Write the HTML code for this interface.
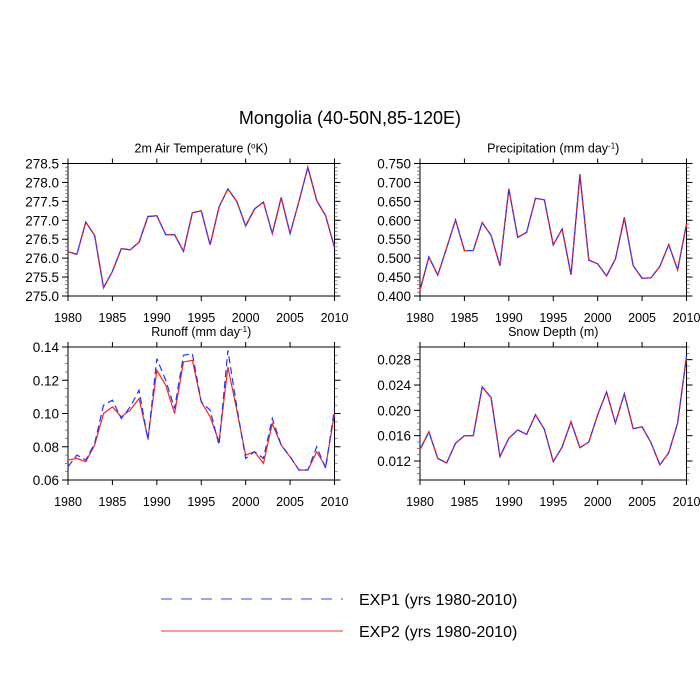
<!DOCTYPE html>
<html><head><meta charset="utf-8"><style>
html,body{margin:0;padding:0;background:#fff;}
svg{display:block;font-family:"Liberation Sans",sans-serif;}
</style></head><body>
<svg id="chart" width="700" height="700" viewBox="0 0 700 700">
<text x="350" y="124" font-size="18" text-anchor="middle">Mongolia (40-50N,85-120E)</text>
<g id="panels"></g>
<g>
<line x1="161" y1="599" x2="343" y2="599" stroke="#3344ff" stroke-width="1" stroke-dasharray="11,9"/>
<text x="359" y="605" font-size="16">EXP1 (yrs 1980-2010)</text>
<line x1="161" y1="631" x2="343" y2="631" stroke="#ff3333" stroke-width="1"/>
<text x="359" y="637" font-size="16">EXP2 (yrs 1980-2010)</text>
</g>
</svg>
<script>
const years = [];
for (let y = 1980; y <= 2010; y++) years.push(y);
const xTickLabels = ["1980","1985","1990","1995","2000","2005","2010"];

const tempExp1 = [276.17,276.1,276.95,276.6,275.22,275.65,276.25,276.22,276.42,277.1,277.12,276.62,276.62,276.18,277.2,277.25,276.35,277.35,277.83,277.5,276.85,277.3,277.48,276.65,277.6,276.65,277.5,278.4,277.52,277.12,276.28];
const tempExp2 = [276.17,276.1,276.95,276.6,275.22,275.65,276.25,276.22,276.42,277.1,277.12,276.62,276.62,276.18,277.2,277.25,276.35,277.35,277.83,277.5,276.85,277.3,277.48,276.65,277.6,276.65,277.5,278.4,277.52,277.12,276.28];
const tempTicks = ["275.0","275.5","276.0","276.5","277.0","277.5","278.0","278.5"];

const precExp1 = [0.415,0.503,0.455,0.527,0.601,0.520,0.520,0.594,0.560,0.480,0.683,0.555,0.568,0.658,0.654,0.535,0.577,0.456,0.722,0.495,0.485,0.453,0.498,0.608,0.480,0.447,0.448,0.478,0.536,0.469,0.590];
const precExp2 = [0.415,0.503,0.455,0.527,0.601,0.520,0.520,0.594,0.560,0.480,0.683,0.555,0.568,0.658,0.654,0.535,0.577,0.456,0.718,0.495,0.485,0.453,0.498,0.605,0.480,0.447,0.448,0.478,0.536,0.469,0.590];
const precTicks = ["0.400","0.450","0.500","0.550","0.600","0.650","0.700","0.750"];

const runExp1 = [0.068,0.075,0.072,0.082,0.105,0.108,0.097,0.104,0.114,0.084,0.133,0.120,0.103,0.135,0.136,0.107,0.102,0.081,0.138,0.104,0.073,0.077,0.073,0.097,0.081,0.074,0.066,0.066,0.080,0.067,0.103];
const runExp2 = [0.072,0.073,0.071,0.081,0.100,0.104,0.098,0.102,0.109,0.085,0.126,0.117,0.100,0.131,0.132,0.107,0.098,0.083,0.128,0.102,0.075,0.077,0.070,0.094,0.081,0.074,0.066,0.066,0.077,0.068,0.100];
const runTicks = ["0.06","0.08","0.10","0.12","0.14"];

const snowExp1 = [0.0138,0.0166,0.0124,0.0117,0.0148,0.0160,0.0160,0.0237,0.0220,0.0127,0.0156,0.0169,0.0162,0.0193,0.0170,0.0119,0.0142,0.0182,0.0141,0.0150,0.0193,0.0229,0.0180,0.0226,0.0171,0.0174,0.0149,0.0114,0.0133,0.0180,0.0286];
const snowExp2 = [0.0138,0.0166,0.0124,0.0117,0.0148,0.0160,0.0160,0.0237,0.0220,0.0127,0.0156,0.0169,0.0162,0.0193,0.0170,0.0119,0.0142,0.0182,0.0141,0.0150,0.0193,0.0229,0.0180,0.0226,0.0171,0.0174,0.0149,0.0114,0.0133,0.0180,0.0284];
const snowTicks = ["0.012","0.016","0.020","0.024","0.028"];

const NS = "http://www.w3.org/2000/svg";
const root = document.getElementById("panels");
function mk(tag, attrs, parent) {
  const e = document.createElementNS(NS, tag);
  for (const k in attrs) e.setAttribute(k, attrs[k]);
  parent.appendChild(e);
  return e;
}

function panel(cfg) {
  const g = mk("g", {}, root);
  
  
  const {x0, x1, y0, y1, ymin, ymax} = cfg;
  const sx = v => x0 + (v - 1980) / 30 * (x1 - x0);
  const sy = v => y1 - (v - ymin) / (ymax - ymin) * (y1 - y0);
  const fr = mk("rect", {x: x0, y: y0, width: x1 - x0, height: y1 - y0, fill: "none", stroke: "#000", "stroke-width": 1}, g);
  
  
  const t = mk("text", {x: (x0 + x1) / 2, y: y0 - 11, "font-size": 12.5, "text-anchor": "middle"}, g);
  
  
  t.innerHTML = cfg.title;
  // x ticks
  xTickLabels.forEach(lab => {
    const xv = sx(+lab);
    mk("line", {x1: xv, y1: y1, x2: xv, y2: y1 + 5, stroke: "#000"}, g);
    mk("line", {x1: xv, y1: y0, x2: xv, y2: y0 - 5, stroke: "#000"}, g);
    const tl = mk("text", {x: xv, y: y1 + 26, "font-size": 12.5, "text-anchor": "middle"}, g);
    
    
    tl.textContent = lab;
  });
  // minor y ticks
  for (let v = cfg.minorStart; v <= ymax + 1e-9; v += cfg.minor) {
    const yv = sy(v);
    if (yv < y0 - 0.5 || yv > y1 + 0.5) continue;
    mk("line", {x1: x0, y1: yv, x2: x0 - 3, y2: yv, stroke: "#555", "stroke-width": 0.7}, g);
    mk("line", {x1: x1, y1: yv, x2: x1 + 3, y2: yv, stroke: "#555", "stroke-width": 0.7}, g);
  }
  cfg.ticks.forEach(lab => {
    const yv = sy(+lab);
    mk("line", {x1: x0, y1: yv, x2: x0 - 6, y2: yv, stroke: "#000"}, g);
    mk("line", {x1: x1, y1: yv, x2: x1 + 6, y2: yv, stroke: "#000"}, g);
    const tl = mk("text", {x: x0 - 9, y: yv + 5, "font-size": 13.5, "text-anchor": "end"}, g);
    
    
    tl.textContent = lab;
  });
  const line = (arr, color, dash, nm) => {
    const p = mk("polyline", {points: arr.map((v, i) => sx(years[i]) + "," + sy(v)).join(" "), fill: "none", stroke: color, "stroke-width": 1.2}, g);
    if (dash) p.setAttribute("stroke-dasharray", dash);
    
    
  };
  line(cfg.e2, "#ff2222", null, cfg.name + '-exp2-line');
  line(cfg.e1, "#2233ff", cfg.dash ? "7,4" : null, cfg.name + '-exp1-line');
  if (!cfg.dash) line(cfg.e2, "#ff2222", "4,5", cfg.name + '-exp2-overlay');
}

panel({name: "temperature", title: "2m Air Temperature (<tspan baseline-shift='super' font-size='8'>o</tspan>K)", x0: 68, x1: 334.5, y0: 163.5, y1: 296, ymin: 275, ymax: 278.5, ticks: tempTicks, minor: 0.1, minorStart: 275, e1: tempExp1, e2: tempExp2});
panel({name: "precipitation", title: "Precipitation (mm day<tspan baseline-shift='super' font-size='8'>-1</tspan>)", x0: 420, x1: 686.5, y0: 163.5, y1: 296, ymin: 0.4, ymax: 0.75, ticks: precTicks, minor: 0.01, minorStart: 0.4, e1: precExp1, e2: precExp2});
panel({name: "runoff", title: "Runoff (mm day<tspan baseline-shift='super' font-size='8'>-1</tspan>)", x0: 68, x1: 334.5, y0: 347, y1: 480, ymin: 0.06, ymax: 0.14, ticks: runTicks, minor: 0.005, minorStart: 0.06, e1: runExp1, e2: runExp2, dash: true});
panel({name: "snow-depth", title: "Snow Depth (m)", x0: 420, x1: 686.5, y0: 347, y1: 480, ymin: 0.009, ymax: 0.030, ticks: snowTicks, minor: 0.001, minorStart: 0.009, e1: snowExp1, e2: snowExp2});
</script>
</body></html>
